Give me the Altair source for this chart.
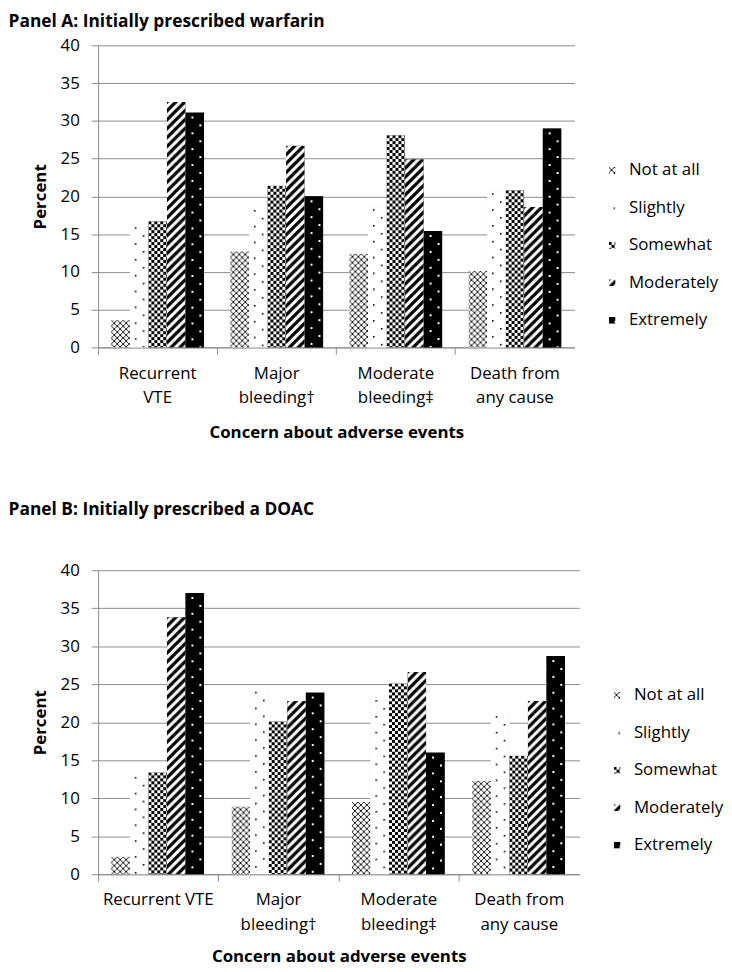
import altair as alt
import pandas as pd
from urllib.parse import quote

# ---------------- data ----------------
categories = ["Recurrent VTE", "Major bleeding†", "Moderate bleeding‡", "Death from any cause"]
labels_a = [["Recurrent", "VTE"], ["Major", "bleeding†"], ["Moderate", "bleeding‡"], ["Death from", "any cause"]]
labels_b = [["Recurrent VTE"], ["Major", "bleeding†"], ["Moderate", "bleeding‡"], ["Death from", "any cause"]]
levels = ["Not at all", "Slightly", "Somewhat", "Moderately", "Extremely"]

title_a = "Panel A: Initially prescribed warfarin"
title_b = "Panel B: Initially prescribed a DOAC"
x_title = "Concern about adverse events"
y_title = "Percent"
y_ticks = [0, 5, 10, 15, 20, 25, 30, 35, 40]

a_not_at_all = [3.6, 12.7, 12.4, 10.1]
a_slightly = [16.3, 18.6, 18.7, 20.8]
a_somewhat = [16.7, 21.4, 28.1, 20.8]
a_moderately = [32.5, 26.7, 24.9, 18.6]
a_extremely = [31.1, 20.0, 15.4, 29.0]

b_not_at_all = [2.3, 8.9, 9.5, 12.3]
b_slightly = [13.2, 24.4, 23.3, 21.2]
b_somewhat = [13.4, 20.1, 25.1, 15.6]
b_moderately = [33.8, 22.8, 26.6, 22.8]
b_extremely = [37.0, 23.9, 16.0, 28.7]


# ---------------- fill patterns (svg tiles) ----------------
def pattern_url(w, h, bg, inner):
    svg = ("<svg xmlns='http://www.w3.org/2000/svg' width='100%' height='100%'>"
           f"<defs><pattern id='p' patternUnits='userSpaceOnUse' width='{w}' height='{h}'>"
           f"<rect width='{w}' height='{h}' fill='{bg}'/>{inner}</pattern></defs>"
           "<rect width='100%' height='100%' fill='url(#p)'/></svg>")
    return "data:image/svg+xml;charset=utf-8," + quote(svg, safe="")


patterns = {
    "Not at all": pattern_url(6, 6, "white",
                              "<path d='M0,0 L6,6 M6,0 L0,6' stroke='black' stroke-width='0.9'/>"),
    "Slightly": pattern_url(16, 16, "white",
                            "<rect x='5' y='3' width='1.6' height='1.6' fill='black'/>"
                            "<rect x='13' y='11' width='1.6' height='1.6' fill='black'/>"),
    "Somewhat": pattern_url(6, 6, "white",
                            "<rect x='0' y='0' width='3' height='3' fill='black' shape-rendering='crispEdges'/>"
                            "<rect x='3' y='3' width='3' height='3' fill='black' shape-rendering='crispEdges'/>"),
    "Moderately": pattern_url(9, 9, "white",
                              "<path d='M-2,11 L11,-2 M-2,2 L2,-2 M7,11 L11,7' stroke='black' stroke-width='3.3'/>"),
    "Extremely": pattern_url(16, 16, "black",
                             "<rect x='6' y='4' width='2' height='2' fill='white'/>"
                             "<rect x='14' y='12' width='2' height='2' fill='white'/>"),
}
fallback_gray = ["#c8c8c8", "#eeeeee", "#808080", "#5a5a5a", "#000000"]

FONT = "Open Sans"
GRAY = "#8c8c8c"


def label_expr(labels):
    expr = "''"
    for cat, lab in reversed(list(zip(categories, labels))):
        arr = "[" + ", ".join("'" + s + "'" for s in lab) + "]"
        expr = f"datum.value == '{cat}' ? {arr} : ({expr})"
    return expr


def panel(series, labels, title, width, height, title_offset, x_title_pad):
    rows = []
    for lvl, vals in zip(levels, series):
        for cat, v in zip(categories, vals):
            rows.append({"category": cat, "level": lvl, "value": v, "url": patterns[lvl]})
    df = pd.DataFrame(rows)

    x = alt.X("category:N", sort=categories,
              scale=alt.Scale(paddingInner=0, paddingOuter=0),
              axis=alt.Axis(title=x_title, labelExpr=label_expr(labels), labelAngle=0,
                            bandPosition=0, ticks=True, tickSize=7, tickColor=GRAY,
                            domainColor=GRAY, grid=False, labelFontSize=17,
                            labelPadding=11, labelLineHeight=24.5, labelFont=FONT,
                            titleFont=FONT, titleFontSize=17, titleFontWeight="bold",
                            titlePadding=x_title_pad, labelColor="black", titleColor="black"))
    xo = alt.XOffset("level:N", sort=levels, scale=alt.Scale(paddingInner=0, paddingOuter=0.71))
    y = alt.Y("value:Q", scale=alt.Scale(domain=[0, 40], nice=False),
              axis=alt.Axis(title=y_title, values=y_ticks, grid=True, gridColor=GRAY,
                            tickSize=7, tickColor=GRAY, domainColor=GRAY,
                            labelPadding=12, labelFontSize=17, labelFont=FONT,
                            titleFont=FONT, titleFontSize=17, titleFontWeight="bold",
                            titlePadding=11, labelColor="black", titleColor="black"))

    bars = alt.Chart(df).mark_bar().encode(
        x=x, xOffset=xo, y=y,
        color=alt.Color("level:N", sort=levels,
                        scale=alt.Scale(domain=levels, range=fallback_gray), legend=None),
    )
    images = alt.Chart(df).mark_image(aspect=False).encode(
        x=x, xOffset=xo, y=y, y2=alt.datum(0), url="url:N",
    )
    plot = alt.layer(bars, images).properties(width=width, height=height)

    leg_df = pd.DataFrame({"level": levels, "url": [patterns[l] for l in levels]})
    ly = alt.Y("level:N", sort=levels, axis=None,
               scale=alt.Scale(type="band", domain=levels, range=[107.5, 296.5],
                               paddingInner=0, paddingOuter=0))
    sym = alt.Chart(leg_df).mark_image(aspect=False, width=7, height=7).encode(
        y=ly, x=alt.value(0), url="url:N")
    txt = alt.Chart(leg_df).mark_text(align="left", baseline="middle", fontSize=17,
                                      font=FONT, color="black").encode(
        y=ly, x=alt.value(17), text="level:N")
    legend = alt.layer(sym, txt).properties(width=100, height=height)

    return alt.hconcat(plot, legend, spacing=34).properties(
        title=alt.TitleParams(title, anchor="start", fontSize=17.5, font=FONT,
                              fontWeight="bold", color="black", offset=title_offset, dx=-23)
    )


chart = alt.vconcat(
    panel([a_not_at_all, a_slightly, a_somewhat, a_moderately, a_extremely],
          labels_a, title_a, 481, 305, 6, 20),
    panel([b_not_at_all, b_slightly, b_somewhat, b_moderately, b_extremely],
          labels_b, title_b, 486, 307, 43, 17),
    spacing=60,
).properties(
    padding={"left": 0, "top": 0, "right": 0, "bottom": 0}
).configure(font=FONT).configure_view(stroke="transparent", strokeWidth=0)

chart.save("out.html", embed_options={"renderer": "svg", "actions": False})
